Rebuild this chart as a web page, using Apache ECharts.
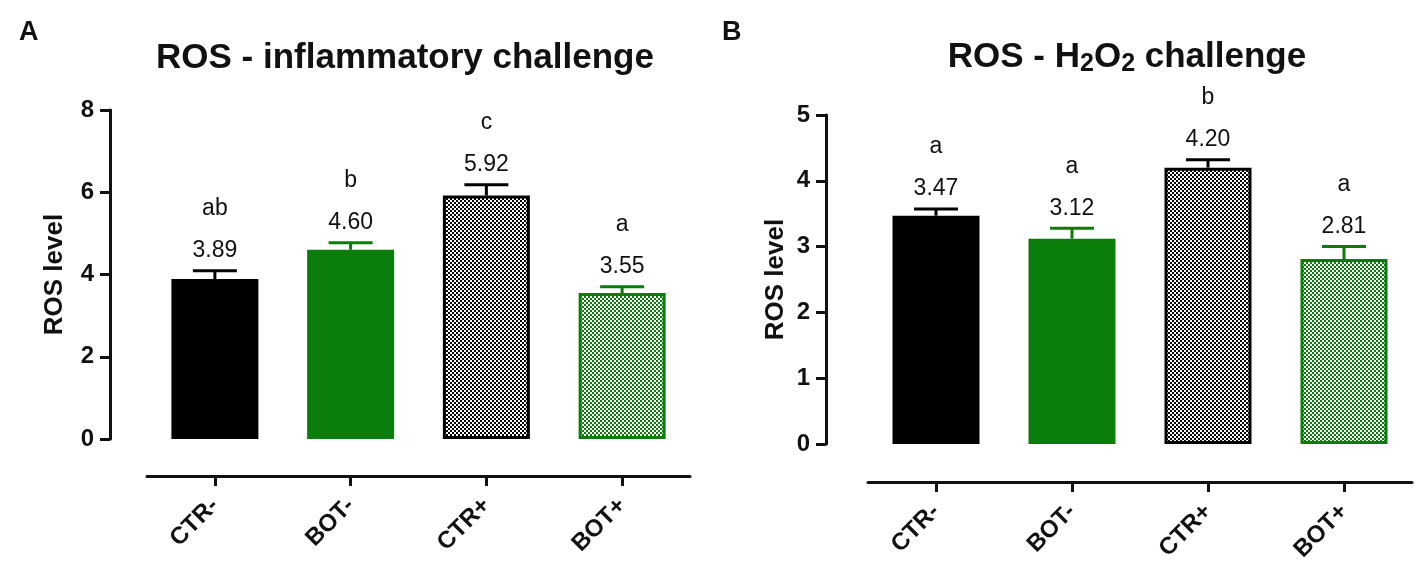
<!DOCTYPE html>
<html>
<head>
<meta charset="utf-8">
<script src="https://cdn.jsdelivr.net/npm/echarts@6/dist/echarts.min.js"></script>
<style>
html, body { margin: 0; padding: 0; background: #fff; }
#main { width: 1418px; height: 575px; }
</style>
</head>
<body>
<div id="main"></div>
<script>
var groups = ['CTR-', 'BOT-', 'CTR+', 'BOT+'];

// panel A: inflammatory challenge
var meanA = [3.89, 4.60, 5.92, 3.55];
var semA = [0.20, 0.17, 0.26, 0.15];
var letterA = ['ab', 'b', 'c', 'a'];
var ticksA = [0, 2, 4, 6, 8];

// panel B: H2O2 challenge
var meanB = [3.47, 3.12, 4.20, 2.81];
var semB = [0.10, 0.16, 0.12, 0.19];
var letterB = ['a', 'a', 'b', 'a'];
var ticksB = [0, 1, 2, 3, 4, 5];

var GREEN = '#0a7d0a';
var FONT = '"Liberation Sans", Arial, sans-serif';

function checker(c) {
    var cv = document.createElement('canvas');
    cv.width = 4; cv.height = 4;
    var g = cv.getContext('2d');
    g.fillStyle = '#fff';
    g.fillRect(0, 0, 4, 4);
    g.fillStyle = c;
    g.fillRect(0, 0, 2, 2);
    g.fillRect(2, 2, 2, 2);
    return { image: cv, repeat: 'repeat' };
}

var lineCol = ['#000', GREEN, '#000', GREEN];
var barStyles = [
    { color: '#000' },
    { color: GREEN },
    { color: checker('#000'), borderColor: '#000', borderWidth: 3 },
    { color: checker(GREEN), borderColor: GREEN, borderWidth: 3 }
];

function barData(vals) {
    return vals.map(function (v, i) {
        return { value: v, itemStyle: barStyles[i] };
    });
}

function errRenderer(means, letters) {
    return function (params, api) {
        var i = params.dataIndex;
        var m = api.value(1), e = api.value(2);
        var base = api.coord([i, m]);
        var top = api.coord([i, m + e]);
        var c = lineCol[i];
        return {
            type: 'group',
            children: [
                { type: 'line', shape: { x1: base[0], y1: base[1], x2: top[0], y2: top[1] }, style: { stroke: c, lineWidth: 3 } },
                { type: 'line', shape: { x1: top[0] - 22, y1: top[1], x2: top[0] + 22, y2: top[1] }, style: { stroke: c, lineWidth: 3 } },
                { type: 'text', x: top[0], y: top[1] - 20, style: { text: means[i].toFixed(2), align: 'center', verticalAlign: 'middle', fill: '#111', font: '23px ' + FONT } },
                { type: 'text', x: top[0], y: top[1] - 62, style: { text: letters[i], align: 'center', verticalAlign: 'middle', fill: '#111', font: '23px ' + FONT } }
            ]
        };
    };
}

function errData(means, sems) {
    return means.map(function (v, i) { return [i, v, sems[i]]; });
}

function xAxisCfg(idx, off) {
    return {
        type: 'category', gridIndex: idx, data: groups, offset: off,
        axisLine: { onZero: false, lineStyle: { color: '#111', width: 3 } },
        axisTick: { show: true, alignWithLabel: true, length: 10, lineStyle: { width: 3, color: '#111' } },
        axisLabel: { rotate: 45, margin: 26, color: '#111', fontWeight: 'bold', fontSize: 24, fontFamily: FONT }
    };
}

function yAxisCfg(idx, off, ticks, gap) {
    return {
        type: 'value', gridIndex: idx, offset: off,
        min: ticks[0], max: ticks[ticks.length - 1], interval: ticks[1] - ticks[0],
        name: 'ROS level', nameLocation: 'middle', nameGap: gap,
        nameTextStyle: { color: '#111', fontWeight: 'bold', fontSize: 26, fontFamily: FONT },
        axisLine: { show: true, lineStyle: { color: '#111', width: 3 } },
        axisTick: { show: true, length: 10, lineStyle: { width: 3, color: '#111' } },
        axisLabel: { margin: 16, color: '#111', fontWeight: 'bold', fontSize: 24, fontFamily: FONT },
        splitLine: { show: false }
    };
}

var chart = echarts.init(document.getElementById('main'));
chart.setOption({
    animation: false,
    backgroundColor: '#fff',
    title: [
        { text: 'A', left: 14, top: 14, textStyle: { fontSize: 27, fontWeight: 'bold', color: '#111', fontFamily: FONT } },
        { text: 'B', left: 717, top: 14, textStyle: { fontSize: 27, fontWeight: 'bold', color: '#111', fontFamily: FONT } },
        { text: 'ROS - inflammatory challenge', left: 400, top: 36, textAlign: 'center',
          textStyle: { fontSize: 35, fontWeight: 'bold', color: '#111', fontFamily: FONT } },
        { text: '{t|ROS - H}{s|2}{t|O}{s|2}{t| challenge}', left: 1122, top: 32, textAlign: 'center',
          textStyle: {
              fontFamily: FONT,
              rich: {
                  t: { fontSize: 35, fontWeight: 'bold', color: '#111', lineHeight: 40, fontFamily: FONT },
                  s: { fontSize: 25, fontWeight: 'bold', color: '#111', lineHeight: 24, verticalAlign: 'bottom', fontFamily: FONT }
              }
          } }
    ],
    grid: [
        { left: 147, width: 543, top: 110, height: 329 },
        { left: 868, width: 544, top: 115, height: 329 }
    ],
    xAxis: [xAxisCfg(0, 37), xAxisCfg(1, 38)],
    yAxis: [yAxisCfg(0, 37, ticksA, 42), yAxisCfg(1, 42, ticksB, 37)],
    series: [
        { type: 'bar', xAxisIndex: 0, yAxisIndex: 0, barWidth: 87, data: barData(meanA) },
        { type: 'bar', xAxisIndex: 1, yAxisIndex: 1, barWidth: 87, data: barData(meanB) },
        { type: 'custom', xAxisIndex: 0, yAxisIndex: 0, clip: false, z: 5,
          renderItem: errRenderer(meanA, letterA), data: errData(meanA, semA) },
        { type: 'custom', xAxisIndex: 1, yAxisIndex: 1, clip: false, z: 5,
          renderItem: errRenderer(meanB, letterB), data: errData(meanB, semB) }
    ]
});
</script>
</body>
</html>
